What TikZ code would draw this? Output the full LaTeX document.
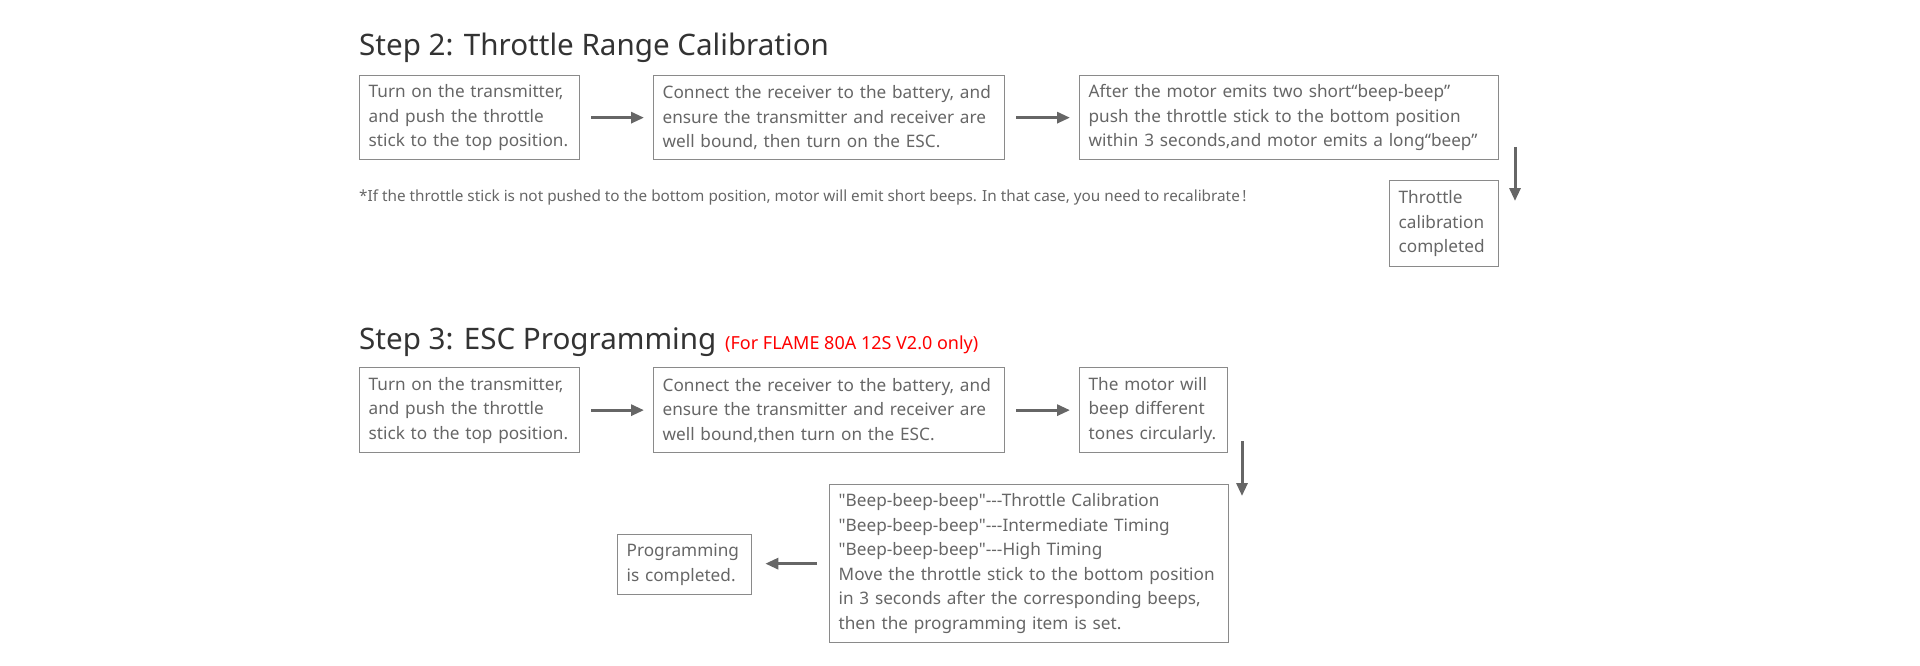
\documentclass[tikz,border=0pt]{standalone}
\usepackage{fontspec}
\setmainfont{Noto Sans}
\newfontfamily\rawfont{Noto Sans}
\usetikzlibrary{arrows.meta}
\definecolor{txt}{HTML}{666666}
\definecolor{bord}{HTML}{8A8A8A}
\definecolor{arr}{HTML}{666666}
\definecolor{ttl}{HTML}{333333}
\definecolor{redtxt}{HTML}{FF0000}
\begin{document}
\begin{tikzpicture}[x=1pt,y=-1pt,
  box/.style={draw=bord, line width=1.3pt, text=txt, font=\rawfont\fontsize{17.2}{24.5}\selectfont,
    align=left, inner xsep=9pt, inner ysep=0pt, anchor=north west},
  flow/.style={draw=arr, line width=3pt, -{Triangle[length=13pt,width=11pt]}},
  title/.style={text=ttl, font=\fontsize{29.6}{36}\selectfont, inner sep=0pt, anchor=base west},
  note/.style={text=txt, font=\fontsize{15.3}{18}\selectfont, inner sep=0pt, anchor=west},
  red/.style={text=redtxt, font=\fontsize{18}{22}\selectfont, inner sep=0pt, anchor=base west}
]
\useasboundingbox (0,0) rectangle (1920,666);

% Step 2
\node[title] (t2) at (359,56) {Step 2: Throttle Range Calibration};
\node[box, text width=202pt, minimum height=84pt] (b1) at (359,75)
  {Turn on the transmitter,\\and push the throttle\\stick to the top position.};
\node[box, text width=333pt, minimum height=84pt] (b2) at (653,75)
  {Connect the receiver to the battery, and\\ensure the transmitter and receiver are\\well bound, then turn on the ESC.};
\node[box, text width=401pt, minimum height=84pt] (b3) at (1079,75)
  {After the motor emits two short“beep-beep”\\push the throttle stick to the bottom position\\within 3 seconds,and motor emits a long“beep”};
\node[box, text width=91pt, minimum height=86pt] (b4) at (1389,180)
  {Throttle\\calibration\\completed};
\node[note] (n1) at (359,197) {*If the throttle stick is not pushed to the bottom position, motor will emit short beeps. In that case, you need to recalibrate\,!};

\draw[flow] ([xshift=11pt]b1.east) -- ([xshift=-9pt]b2.west);
\draw[flow] ([xshift=11pt]b2.east) -- ([xshift=-9pt]b3.west);
\coordinate (d1s) at (1515,147);
\coordinate (d1e) at (1515,201);
\draw[flow] (d1s) -- (d1e);

% Step 3
\node[title] (t3) at (359,349) {Step 3: ESC Programming};
\node[red] (r3) at (725,349) {(For FLAME 80A 12S V2.0 only)};
\node[box, text width=202pt, minimum height=85pt] (b5) at (359,367)
  {Turn on the transmitter,\\and push the throttle\\stick to the top position.};
\node[box, text width=333pt, minimum height=85pt] (b6) at (653,367)
  {Connect the receiver to the battery, and\\ensure the transmitter and receiver are\\well bound,then turn on the ESC.};
\node[box, text width=130pt, minimum height=85pt] (b7) at (1079,367)
  {The motor will\\beep different\\tones circularly.};
\node[box, text width=381pt, minimum height=158pt] (b8) at (829,484)
  {"Beep-beep-beep"---Throttle Calibration\\"Beep-beep-beep"---Intermediate Timing\\"Beep-beep-beep"---High Timing\\Move the throttle stick to the bottom position\\in 3 seconds after the corresponding beeps,\\then the programming item is set.};
\node[box, text width=116pt, minimum height=60pt] (b9) at (617,534)
  {Programming\\is completed.};

\draw[flow] ([xshift=11pt]b5.east) -- ([xshift=-9pt]b6.west);
\draw[flow] ([xshift=11pt]b6.east) -- ([xshift=-9pt]b7.west);
\coordinate (d2s) at (1242,441);
\coordinate (d2e) at (1242,496);
\draw[flow] (d2s) -- (d2e);
\draw[flow] ([xshift=-12pt]b8.west) -- ([xshift=13pt]b9.east |- b8.west);
\end{tikzpicture}
\end{document}
